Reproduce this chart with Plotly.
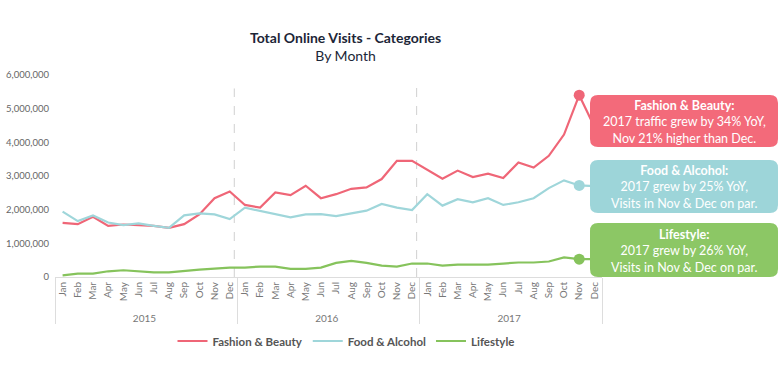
import plotly.graph_objects as go

years = ["2015"] * 12 + ["2016"] * 12 + ["2017"] * 12
month_names = ["Jan", "Feb", "Mar", "Apr", "May", "Jun", "Jul", "Aug", "Sep", "Oct", "Nov", "Dec"]
months = month_names * 3

fashion_beauty = [1.61, 1.57, 1.79, 1.52, 1.56, 1.55, 1.52, 1.46, 1.57, 1.86, 2.34, 2.54,
                  2.14, 2.06, 2.51, 2.43, 2.71, 2.34, 2.46, 2.62, 2.66, 2.91, 3.45, 3.45,
                  3.18, 2.92, 3.16, 2.97, 3.07, 2.94, 3.40, 3.25, 3.60, 4.23, 5.40, 4.46]
food_alcohol = [1.94, 1.66, 1.83, 1.62, 1.54, 1.59, 1.52, 1.46, 1.83, 1.89, 1.86, 1.72,
                2.06, 1.97, 1.86, 1.77, 1.86, 1.87, 1.81, 1.89, 1.97, 2.17, 2.06, 1.99,
                2.46, 2.12, 2.31, 2.22, 2.34, 2.14, 2.22, 2.34, 2.64, 2.87, 2.72, 2.70]
lifestyle = [0.05, 0.10, 0.10, 0.17, 0.20, 0.17, 0.14, 0.14, 0.19, 0.22, 0.25, 0.28,
             0.28, 0.31, 0.31, 0.24, 0.24, 0.28, 0.42, 0.48, 0.42, 0.34, 0.31, 0.40,
             0.40, 0.34, 0.37, 0.37, 0.37, 0.40, 0.43, 0.43, 0.46, 0.58, 0.53, 0.53]

series_names = ["Fashion & Beauty", "Food & Alcohol", "Lifestyle"]
line_colors = ["#ef6677", "#9fd6da", "#86c35c"]
box_colors = ["#f36a7a", "#9dd5d9", "#8cc765"]
box_titles = ["Fashion & Beauty:", "Food & Alcohol:", "Lifestyle:"]
box_lines = [["2017 traffic grew by 34% YoY,", "Nov 21% higher than Dec."],
             ["2017 grew by 25% YoY,", "Visits in Nov & Dec on par."],
             ["2017 grew by 26% YoY,", "Visits in Nov & Dec on par."]]
y_tickvals = [0, 1e6, 2e6, 3e6, 4e6, 5e6, 6e6]
y_ticktext = ["0", "1,000,000", "2,000,000", "3,000,000", "4,000,000", "5,000,000", "6,000,000"]

FONT = "Lato"
W, H = 780, 378
L, R, T, B = 55, 602, 75, 277


def px(x):
    return (x - L) / (R - L)


def py(y):
    return (B - y) / (B - T)


def rrect(x0, y0, x1, y1, r):
    pts = [
        ("M", [(x0 + r, y0)]),
        ("L", [(x1 - r, y0)]),
        ("Q", [(x1, y0), (x1, y0 + r)]),
        ("L", [(x1, y1 - r)]),
        ("Q", [(x1, y1), (x1 - r, y1)]),
        ("L", [(x0 + r, y1)]),
        ("Q", [(x0, y1), (x0, y1 - r)]),
        ("L", [(x0, y0 + r)]),
        ("Q", [(x0, y0), (x0 + r, y0)]),
    ]
    s = ""
    for cmd, ps in pts:
        s += cmd + " " + " ".join(f"{px(a):.5f},{py(b):.5f}" for a, b in ps) + " "
    return s + "Z"


fig = go.Figure()
all_series = [fashion_beauty, food_alcohol, lifestyle]
for name, vals, col in zip(series_names, all_series, line_colors):
    fig.add_trace(go.Scatter(
        x=[years, months], y=[v * 1e6 for v in vals], name=name, mode="lines",
        line=dict(color=col, width=2.2),
    ))
for vals, col in zip(all_series, line_colors):
    fig.add_trace(go.Scatter(
        x=[[years[34]], [months[34]]], y=[vals[34] * 1e6], mode="markers",
        marker=dict(color=col, size=11), showlegend=False, hoverinfo="skip",
    ))

shapes = []
for xv, ytop in [(11.3, 5.6e6), (23.3, 5.8e6)]:
    shapes.append(dict(type="line", xref="x", yref="y", x0=xv, x1=xv, y0=0, y1=ytop,
                       line=dict(color="#d0d0d0", width=1, dash="dash"), layer="below"))

box_y = [(95, 147), (160, 213), (223, 277)]
annotations = []
for (y0, y1), col, t, lines in zip(box_y, box_colors, box_titles, box_lines):
    shapes.append(dict(type="path", xref="paper", yref="paper", path=rrect(590, y0, 778, y1, 8),
                       fillcolor=col, line=dict(width=0), layer="above"))
    cy = (y0 + y1) / 2
    txt = f"<b>{t}</b><br>" + "<br>".join(lines)
    annotations.append(dict(xref="paper", yref="paper", x=px(684), y=py(cy + 0.5), text=txt,
                            showarrow=False, xanchor="center", yanchor="middle", align="center",
                            font=dict(family=FONT, size=12.5, color="white")))

annotations.append(dict(xref="paper", yref="paper", x=px(346), y=py(46.5),
                        text="<b>Total Online Visits - Categories</b><br>By Month",
                        showarrow=False, xanchor="center", yanchor="middle", align="center",
                        font=dict(family=FONT, size=14, color="#1c2637")))

fig.update_layout(
    width=W, height=H,
    margin=dict(l=L, r=W - R, t=T, b=H - B, pad=0, autoexpand=False),
    paper_bgcolor="white", plot_bgcolor="white",
    showlegend=True,
    legend=dict(orientation="h", x=px(346), xanchor="center", y=py(341), yanchor="middle",
                font=dict(family=FONT, size=11.5, color="#555555", weight="bold"), itemwidth=30,
                traceorder="normal"),
    shapes=shapes, annotations=annotations,
    hovermode=False,
)
fig.update_yaxes(range=[0, 6e6], tickvals=y_tickvals, ticktext=y_ticktext, showgrid=False,
                 zeroline=False, showline=False, ticks="", automargin=False, ticklabelstandoff=5,
                 tickfont=dict(family=FONT, size=9.5, color="#666666"))
fig.update_xaxes(type="multicategory", range=[-0.5, 35.5], showgrid=False, showline=True,
                 linecolor="#dddddd", linewidth=1, tickangle=-90, ticks="", showdividers=True,
                 automargin=False, dividercolor="#dddddd", dividerwidth=1,
                 tickfont=dict(family=FONT, size=10, color="#777777"))

fig.write_html("out.html", config={"displayModeBar": False, "staticPlot": True},
               post_script="document.body.style.margin='0';document.body.style.padding='0';")
